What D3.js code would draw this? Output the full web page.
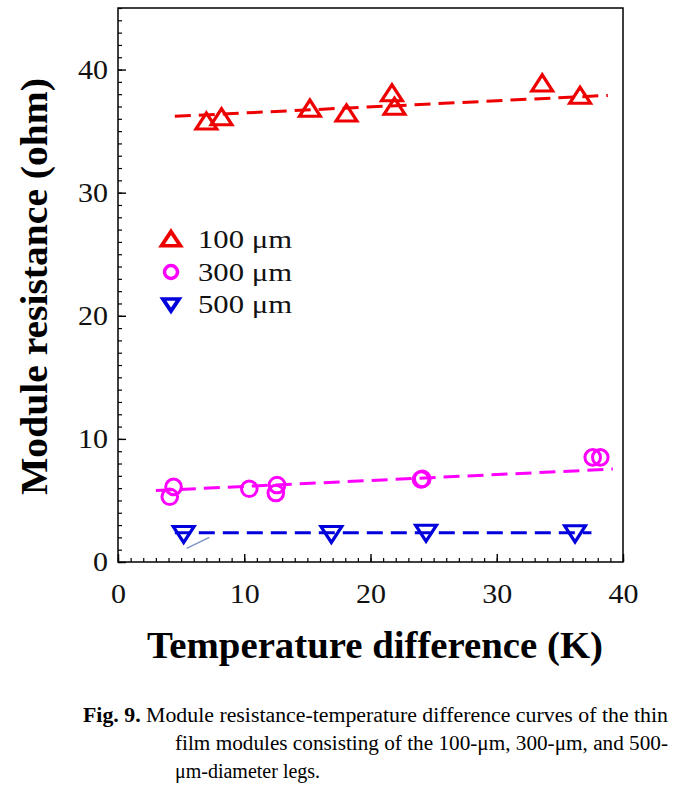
<!DOCTYPE html>
<html><head><meta charset="utf-8">
<script src="https://cdn.jsdelivr.net/npm/d3@7"></script>
<style>body{margin:0;background:#fff}svg{display:block}</style>
</head><body><svg id="chart" width="674" height="793"></svg>
<script>
// ---- data ----
const series100X = [7.0, 8.2, 15.2, 18.1, 21.7, 21.9, 33.6, 36.6];
const series100Y = [35.6, 35.95, 36.65, 36.25, 37.9, 36.8, 38.7, 37.7];
const series300X = [4.4, 4.1, 10.4, 12.6, 12.5, 24.0, 24.1, 37.6, 38.2];
const series300Y = [6.1, 5.3, 5.95, 6.25, 5.6, 6.7, 6.75, 8.5, 8.5];
const series500X = [5.2, 16.9, 24.4, 36.2];
const series500Y = [2.45, 2.45, 2.55, 2.5];
const fitX100 = [4.5, 38.8], fitY100 = [36.2, 37.9];
const fitX300 = [3.0, 39.2], fitY300 = [5.8, 7.55];
const fitX500 = [4.5, 37.5], fitY500 = [2.38, 2.38];
const strayX = [5.44, 7.23], strayY = [1.11, 2.0];
const xTicks = [0, 10, 20, 30, 40];
const yTicks = [0, 10, 20, 30, 40];
const legendLabels = ["100 μm", "300 μm", "500 μm"];
const xTitle = "Temperature difference (K)";
const yTitle = "Module resistance (ohm)";
const captionBold = "Fig. 9.";
const captionLines = [" Module resistance-temperature difference curves of the thin",
  "film modules consisting of the 100-μm, 300-μm, and 500-",
  "μm-diameter legs."];

const RED = "#ee0000", MAG = "#ff00ff", BLUE = "#0000dd";
const serif = "'Liberation Serif','Times New Roman',serif";

const svg = d3.select("#chart");
svg.append("rect").attr("width", 674).attr("height", 793).attr("fill", "#fff");

const L = 118, R = 623, T = 8, B = 562;
const x = d3.scaleLinear().domain([0, 40]).range([L, R]);
const y = d3.scaleLinear().domain([0, 45]).range([B, T]);

// minor ticks
svg.append("g").attr("transform", `translate(0,${B})`)
  .call(d3.axisBottom(x).tickValues(d3.range(0, 41)).tickSize(-4).tickFormat(""))
  .call(g => g.select(".domain").remove())
  .selectAll("line").attr("stroke", "#000").attr("stroke-width", 1.2);
svg.append("g").attr("transform", `translate(${L},0)`)
  .call(d3.axisLeft(y).tickValues(d3.range(0, 46)).tickSize(-4).tickFormat(""))
  .call(g => g.select(".domain").remove())
  .selectAll("line").attr("stroke", "#000").attr("stroke-width", 1.2);

// major ticks
const gx = svg.append("g").attr("transform", `translate(0,${B})`)
  .call(d3.axisBottom(x).tickValues(xTicks).tickSize(-8).tickPadding(21).tickFormat(d3.format("d")));
gx.select(".domain").remove();
gx.selectAll("line").attr("stroke", "#000").attr("stroke-width", 1.4);
gx.selectAll("text").attr("font-family", serif).attr("font-size", 28).attr("fill", "#111")
  .attr("textLength", d => String(d).length * 15).attr("lengthAdjust", "spacingAndGlyphs");

const gy = svg.append("g").attr("transform", `translate(${L},0)`)
  .call(d3.axisLeft(y).tickValues(yTicks).tickSize(-8).tickPadding(10).tickFormat(d3.format("d")));
gy.select(".domain").remove();
gy.selectAll("line").attr("stroke", "#000").attr("stroke-width", 1.4);
gy.selectAll("text").attr("font-family", serif).attr("font-size", 28).attr("fill", "#111")
  .attr("textLength", d => String(d).length * 15).attr("lengthAdjust", "spacingAndGlyphs");

// frame
svg.append("rect").attr("x", L).attr("y", T).attr("width", R - L).attr("height", B - T)
  .attr("fill", "none").attr("stroke", "#000").attr("stroke-width", 1.5);

// fit lines
const line = d3.line().x(d => x(d[0])).y(d => y(d[1]));
function fit(xs, ys, color) {
  svg.append("path").datum(xs.map((v, i) => [v, ys[i]])).attr("d", line)
    .attr("fill", "none").attr("stroke", color).attr("stroke-width", 3)
    .attr("stroke-dasharray", "16,8");
}
fit(fitX100, fitY100, RED);
fit(fitX300, fitY300, MAG);
fit(fitX500, fitY500, BLUE);
svg.append("path").datum(strayX.map((v, i) => [v, strayY[i]])).attr("d", line)
  .attr("fill", "none").attr("stroke", "#7f93c8").attr("stroke-width", 1.5);

// markers
const triUp = d3.symbol(d3.symbolTriangle, 150);
function markers(xs, ys, color, kind) {
  const pts = xs.map((v, i) => [v, ys[i]]);
  const g = svg.append("g");
  if (kind === "circle") {
    g.selectAll("circle").data(pts).join("circle")
      .attr("cx", d => x(d[0])).attr("cy", d => y(d[1])).attr("r", 7.8)
      .attr("fill", "none").attr("stroke", color).attr("stroke-width", 3);
  } else {
    g.selectAll("path").data(pts).join("path").attr("d", triUp)
      .attr("transform", d => `translate(${x(d[0])},${y(d[1])}) scale(1.12,1)` + (kind === "down" ? " rotate(180)" : ""))
      .attr("fill", "none").attr("stroke", color).attr("stroke-width", 3).attr("stroke-linejoin", "miter");
  }
}
markers(series100X, series100Y, RED, "up");
markers(series300X, series300Y, MAG, "circle");
markers(series500X, series500Y, BLUE, "down");

// legend
const legColors = [RED, MAG, BLUE];
const legKinds = ["up", "circle", "down"];
const legBase = [248, 281, 313];
legendLabels.forEach((lab, i) => {
  const cx = 171, cy = legBase[i] - 9;
  if (legKinds[i] === "circle") {
    svg.append("circle").attr("cx", cx).attr("cy", cy).attr("r", 6.5)
      .attr("fill", "none").attr("stroke", legColors[i]).attr("stroke-width", 3.5);
  } else {
    svg.append("path").attr("d", d3.symbol(d3.symbolTriangle, legKinds[i] === "up" ? 115 : 85)())
      .attr("transform", `translate(${cx},${cy + (legKinds[i] === "up" ? 2 : -1)}) scale(1.15,1)` + (legKinds[i] === "down" ? " rotate(180)" : ""))
      .attr("fill", "none").attr("stroke", legColors[i]).attr("stroke-width", 3.5);
  }
  svg.append("text").attr("x", 198).attr("y", legBase[i]).text(lab)
    .attr("font-family", serif).attr("font-size", 25).attr("fill", "#111")
    .attr("textLength", 94).attr("lengthAdjust", "spacingAndGlyphs");
});

// axis titles
svg.append("text").attr("x", 147).attr("y", 658).text(xTitle)
  .attr("font-family", serif).attr("font-weight", "bold").attr("font-size", 37).attr("fill", "#000")
  .attr("textLength", 456).attr("lengthAdjust", "spacingAndGlyphs");
svg.append("text").attr("transform", "translate(47,495) rotate(-90)").text(yTitle)
  .attr("font-family", serif).attr("font-weight", "bold").attr("font-size", 37).attr("fill", "#000")
  .attr("textLength", 417).attr("lengthAdjust", "spacingAndGlyphs");

// caption
const cap1 = svg.append("text").attr("x", 83).attr("y", 722)
  .attr("font-family", serif).attr("font-size", 20).attr("fill", "#000")
  .attr("textLength", 585).attr("lengthAdjust", "spacingAndGlyphs");
cap1.append("tspan").attr("font-weight", "bold").text(captionBold);
cap1.append("tspan").text(captionLines[0]);
svg.append("text").attr("x", 175).attr("y", 750).text(captionLines[1])
  .attr("font-family", serif).attr("font-size", 20).attr("fill", "#000")
  .attr("textLength", 493).attr("lengthAdjust", "spacingAndGlyphs");
svg.append("text").attr("x", 175).attr("y", 778).text(captionLines[2])
  .attr("font-family", serif).attr("font-size", 20).attr("fill", "#000");
</script>
</body></html>
